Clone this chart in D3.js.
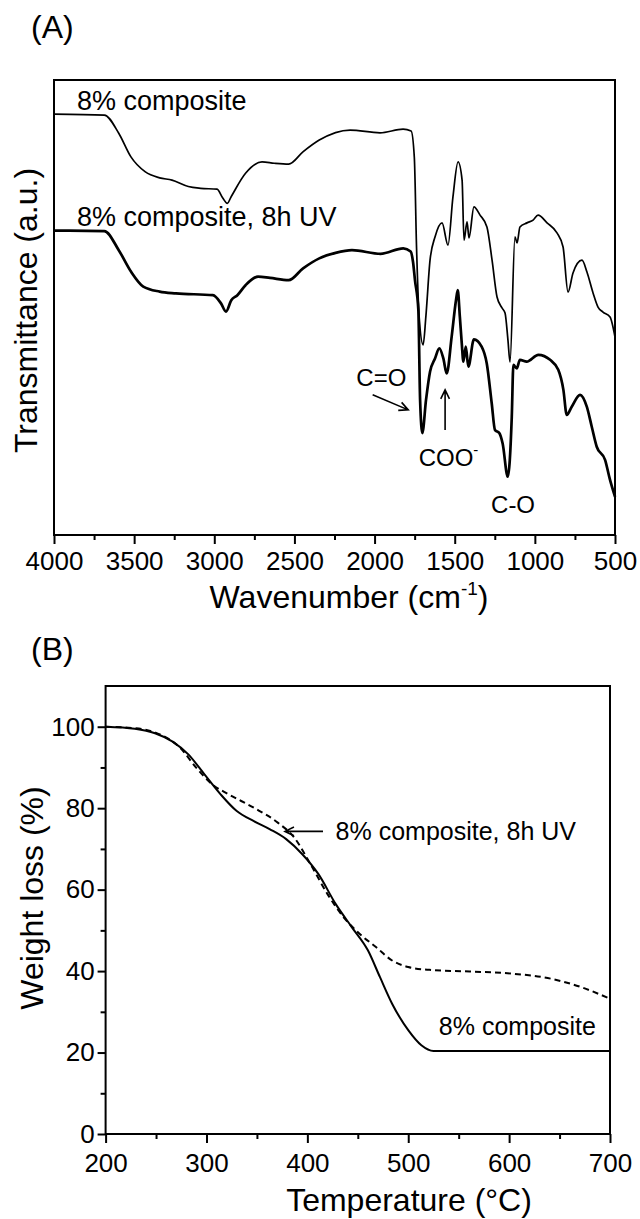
<!DOCTYPE html>
<html>
<head>
<meta charset="utf-8">
<script src="https://cdn.jsdelivr.net/npm/d3@7/dist/d3.min.js"></script>
<style>
  body { margin: 0; background: #fff; }
  svg { display: block; }
</style>
</head>
<body>
<svg id="chart" width="640" height="1219"></svg>
<script>
// FTIR (panel A), transmittance in arbitrary units
const ftirWn = [4000, 3686, 3596, 3520, 3430, 3341, 3264, 3162, 3085, 2983, 2946, 2919, 2894, 2805, 2702, 2626, 2536, 2447, 2345, 2153, 1966, 1822, 1772, 1752, 1738, 1722, 1697, 1680, 1654, 1623, 1579, 1542, 1511, 1479, 1454, 1442, 1423, 1411, 1380, 1342, 1299, 1267, 1236, 1205, 1186, 1168, 1155, 1124, 1111, 1093, 1049, 1011, 980, 924, 862, 824, 793, 762, 706, 675, 637, 606, 575, 531, 500];
const ftirComposite = [92.5, 92.3, 88.3, 83.1, 79.8, 78.5, 78.0, 76.6, 76.2, 76.0, 74.0, 72.9, 74.4, 79.5, 82.0, 81.7, 81.5, 84.2, 86.8, 89.0, 88.4, 89.2, 88.8, 83, 63, 48, 41.8, 48, 60.4, 65.5, 68.6, 63.7, 74.3, 82.0, 78.0, 64.8, 68.8, 65.3, 72.1, 70.3, 67.7, 60.4, 52.3, 49.9, 48.8, 42.9, 38.0, 65.5, 64.2, 67.7, 68.6, 69.2, 70.3, 68.6, 66.4, 63.3, 53.4, 57.6, 60.4, 57.8, 53.2, 50.1, 49.0, 47.9, 43.5];

const ftirUvWn = [4000, 3686, 3596, 3520, 3443, 3341, 3239, 3009, 2958, 2927, 2894, 2856, 2805, 2727, 2652, 2536, 2446, 2345, 2243, 2141, 1962, 1821, 1775, 1760, 1748, 1727, 1716, 1702, 1679, 1654, 1623, 1596, 1571, 1550, 1519, 1492, 1481, 1468, 1456, 1446, 1431, 1415, 1380, 1332, 1300, 1269, 1249, 1222, 1201, 1169, 1144, 1134, 1113, 1093, 1051, 978, 905, 854, 822, 801, 770, 718, 676, 645, 614, 562, 531, 500];
const ftirUv = [66.9, 66.8, 62.6, 57.9, 54.6, 53.5, 53.1, 52.7, 50.9, 49.1, 51.6, 52.7, 54.9, 56.8, 56.5, 56.0, 58.6, 60.8, 62.0, 62.6, 61.8, 63.0, 62.3, 60, 56, 49.5, 29.7, 22.4, 29.7, 35.9, 38.8, 41.0, 38.8, 35.5, 43.6, 51.6, 53.8, 48, 42.1, 38.1, 41.4, 37.0, 43.0, 41.4, 37.7, 28.9, 23.1, 22.4, 20.1, 12.8, 26.0, 37.4, 36.6, 38.5, 38.1, 39.6, 38.5, 36.3, 31.9, 26.4, 28.2, 30.8, 28.2, 23.8, 19.4, 16.5, 12.1, 8.4];

const wnTicks = [4000, 3500, 3000, 2500, 2000, 1500, 1000, 500];
const wnMinor = [3750, 3250, 2750, 2250, 1750, 1250, 750];

// TGA (panel B)
const tgaTemp = [200, 229, 249, 266, 282, 298, 314, 330, 347, 363, 379, 395, 411, 428, 444, 460, 472, 484, 500, 513, 525, 560, 600, 650, 700];
const tgaComposite = [100, 99.5, 98.4, 96.4, 93.2, 88.3, 83.4, 79.3, 76.8, 74.8, 72.4, 68.7, 63.8, 56.5, 50.8, 45.1, 38.5, 32.0, 25.5, 21.8, 20.4, 20.4, 20.4, 20.4, 20.4];
const tgaUvTemp = [200, 230, 250, 274, 290, 306, 322, 347, 371, 387, 403, 420, 436, 452, 468, 484, 500, 521, 561, 602, 642, 671, 700];
const tgaUv = [100, 99.6, 98.5, 94.8, 89.9, 85.8, 83.4, 80.1, 76.4, 72.8, 66.3, 58.9, 53.2, 49.1, 45.9, 42.6, 41.0, 40.3, 39.9, 39.4, 38.1, 36.1, 33.2];

const tempTicks = [200, 300, 400, 500, 600, 700];
const tempMinor = [250, 350, 450, 550, 650];
const wlTicks = [0, 20, 40, 60, 80, 100];
const wlMinor = [10, 30, 50, 70, 90];

const FONT = "'Liberation Sans', Arial, Helvetica, sans-serif";
const svg = d3.select("#chart").attr("font-family", FONT);
svg.append("rect").attr("width", 640).attr("height", 1219).attr("fill", "#fff");

function styleAxis (g, size) {
  g.attr("font-family", FONT).attr("font-size", size);
  g.select(".domain").remove();
  g.selectAll(".tick line").attr("stroke", "#000").attr("stroke-width", 2);
  g.selectAll(".tick text").attr("fill", "#000");
}

function arrow (g, x1, y1, x2, y2, w) {
  const a = Math.atan2(y2 - y1, x2 - x1), L = 10, s = 0.45;
  const p = d3.path();
  p.moveTo(x1, y1); p.lineTo(x2, y2);
  p.moveTo(x2 - L * Math.cos(a - s), y2 - L * Math.sin(a - s));
  p.lineTo(x2, y2);
  p.lineTo(x2 - L * Math.cos(a + s), y2 - L * Math.sin(a + s));
  g.append("path").attr("d", p.toString()).attr("fill", "none")
    .attr("stroke", "#000").attr("stroke-width", w);
}

// ---------- Panel A ----------
const a = { left: 54, right: 615, top: 80, bottom: 535 };
const xA = d3.scaleLinear().domain([4000, 500]).range([a.left, a.right]);
const yA = d3.scaleLinear().domain([0, 100]).range([a.bottom, a.top]);
const gA = svg.append("g");

gA.append("text").attr("x", 31).attr("y", 38).attr("font-size", 32).text("(A)");

gA.append("g").attr("transform", "translate(0," + a.bottom + ")")
  .call(d3.axisBottom(xA).tickValues(wnMinor).tickSize(5).tickFormat(""))
  .call(g => styleAxis(g, 26));
gA.append("g").attr("transform", "translate(0," + a.bottom + ")")
  .call(d3.axisBottom(xA).tickValues(wnTicks).tickSize(9).tickPadding(8).tickFormat(d3.format("d")))
  .call(g => styleAxis(g, 26));

const lineA = d3.line().curve(d3.curveMonotoneX)
  .x(d => xA(d[0])).y(d => yA(d[1]));
gA.append("path").attr("d", lineA(d3.zip(ftirWn, ftirComposite)))
  .attr("fill", "none").attr("stroke", "#000").attr("stroke-width", 1.7).attr("stroke-linejoin", "round");
gA.append("path").attr("d", lineA(d3.zip(ftirUvWn, ftirUv)))
  .attr("fill", "none").attr("stroke", "#000").attr("stroke-width", 2.7).attr("stroke-linejoin", "round");

gA.append("rect").attr("x", a.left).attr("y", a.top)
  .attr("width", a.right - a.left).attr("height", a.bottom - a.top)
  .attr("fill", "none").attr("stroke", "#000").attr("stroke-width", 2);

gA.append("text").attr("x", xA(3857)).attr("y", yA(93.4)).attr("font-size", 27).text("8% composite");
gA.append("text").attr("x", xA(3857)).attr("y", yA(67.9)).attr("font-size", 27).text("8% composite, 8h UV");

gA.append("text").attr("x", xA(2114)).attr("y", yA(32.7)).attr("font-size", 24).text("C=O");
arrow(gA, xA(2012), yA(30.8), xA(1790), yA(27.5), 1.6);
arrow(gA, xA(1560), yA(23.1), xA(1560), yA(31.9), 1.6);
const coo = gA.append("text").attr("x", xA(1539)).attr("y", yA(15.2)).attr("font-size", 24).attr("text-anchor", "middle");
coo.append("tspan").text("COO");
coo.append("tspan").attr("font-size", 15).attr("dy", -11).text("-");
gA.append("text").attr("x", xA(1136)).attr("y", yA(4.8)).attr("font-size", 24).attr("text-anchor", "middle").text("C-O");

gA.append("text").attr("transform", "translate(37," + ((a.top + a.bottom) / 2 + 3) + ") rotate(-90)")
  .attr("text-anchor", "middle").attr("font-size", 32).text("Transmittance (a.u.)");
const wt = gA.append("text").attr("x", 349).attr("y", 608).attr("text-anchor", "middle").attr("font-size", 32);
wt.append("tspan").text("Wavenumber (cm");
wt.append("tspan").attr("font-size", 19).attr("dy", -13).text("-1");
wt.append("tspan").attr("dy", 13).text(")");

// ---------- Panel B ----------
const b = { left: 105.6, right: 610, top: 686, bottom: 1134 };
const xB = d3.scaleLinear().domain([200, 700]).range([b.left, b.right]);
const yB = d3.scaleLinear().domain([0, 110]).range([b.bottom, b.top]);
const gB = svg.append("g");

gB.append("text").attr("x", 31).attr("y", 660).attr("font-size", 32).text("(B)");

gB.append("g").attr("transform", "translate(0," + b.bottom + ")")
  .call(d3.axisBottom(xB).tickValues(tempMinor).tickSize(5).tickFormat(""))
  .call(g => styleAxis(g, 26));
gB.append("g").attr("transform", "translate(0," + b.bottom + ")")
  .call(d3.axisBottom(xB).tickValues(tempTicks).tickSize(9).tickPadding(11).tickFormat(d3.format("d")))
  .call(g => styleAxis(g, 26));
gB.append("g").attr("transform", "translate(" + b.left + ",0)")
  .call(d3.axisLeft(yB).tickValues(wlMinor).tickSize(5).tickFormat(""))
  .call(g => styleAxis(g, 26));
gB.append("g").attr("transform", "translate(" + b.left + ",0)")
  .call(d3.axisLeft(yB).tickValues(wlTicks).tickSize(8).tickPadding(3).tickFormat(d3.format("d")))
  .call(g => styleAxis(g, 26));

const lineB = d3.line().curve(d3.curveMonotoneX)
  .x(d => xB(d[0])).y(d => yB(d[1]));
gB.append("path").attr("d", lineB(d3.zip(tgaUvTemp, tgaUv)))
  .attr("fill", "none").attr("stroke", "#000").attr("stroke-width", 2).attr("stroke-dasharray", "6,4");
gB.append("path").attr("d", lineB(d3.zip(tgaTemp, tgaComposite)))
  .attr("fill", "none").attr("stroke", "#000").attr("stroke-width", 2);

gB.append("rect").attr("x", b.left).attr("y", b.top)
  .attr("width", b.right - b.left).attr("height", b.bottom - b.top)
  .attr("fill", "none").attr("stroke", "#000").attr("stroke-width", 2);

arrow(gB, xB(415.5), yB(74.3), xB(377.8), yB(74.3), 1.6);
gB.append("text").attr("x", xB(428)).attr("y", yB(72.2)).attr("font-size", 25).text("8% composite, 8h UV");
gB.append("text").attr("x", xB(686)).attr("y", yB(24.4)).attr("font-size", 25).attr("text-anchor", "end").text("8% composite");

gB.append("text").attr("transform", "translate(43,898) rotate(-90)")
  .attr("text-anchor", "middle").attr("font-size", 32).text("Weight loss (%)");
gB.append("text").attr("x", 409).attr("y", 1211).attr("text-anchor", "middle").attr("font-size", 32)
  .text("Temperature (°C)");
</script>
</body>
</html>
